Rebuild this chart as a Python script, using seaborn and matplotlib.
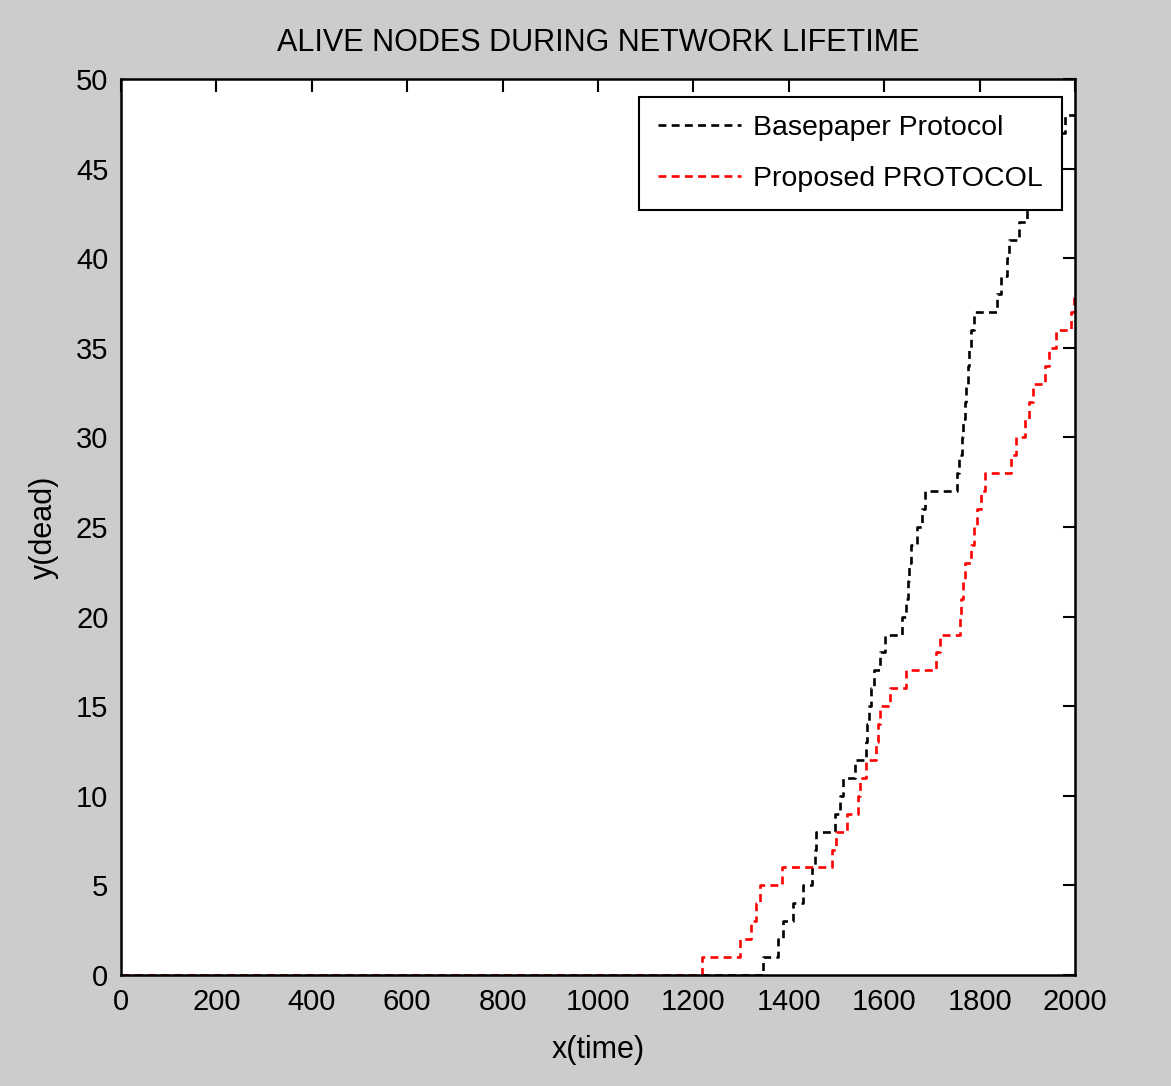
import matplotlib
matplotlib.use("Agg")
import matplotlib.pyplot as plt
import seaborn as sns
import pandas as pd

# Times (rounds) at which the dead-node count changes, and the new count
base_time = [0, 1346, 1378, 1388, 1409, 1430, 1448, 1455, 1458, 1497, 1507, 1514,
             1539, 1562, 1565, 1568, 1572, 1578, 1591, 1602, 1638, 1646, 1650, 1652,
             1656, 1669, 1679, 1686, 1752, 1757, 1763, 1766, 1769, 1772, 1775, 1778,
             1782, 1788, 1837, 1845, 1858, 1862, 1883, 1900, 1915, 1930, 1945, 1960,
             1980, 2000]
base_dead = [0, 1, 2, 3, 4, 5, 6, 7, 8, 9, 10, 11,
             12, 13, 14, 15, 16, 17, 18, 19, 20, 21, 22, 23,
             24, 25, 26, 27, 28, 29, 30, 31, 32, 33, 34, 35,
             36, 37, 38, 39, 40, 41, 42, 43, 44, 45, 46, 47,
             48, 48]

prop_time = [0, 1218, 1297, 1320, 1332, 1339, 1386, 1490, 1500, 1523, 1546, 1549,
             1562, 1582, 1588, 1592, 1612, 1646, 1708, 1716, 1760, 1762, 1765, 1770,
             1782, 1788, 1794, 1804, 1812, 1866, 1876, 1896, 1903, 1912, 1937, 1946,
             1960, 1992, 1997, 2000]
prop_dead = [0, 1, 2, 3, 4, 5, 6, 7, 8, 9, 10, 11,
             12, 13, 14, 15, 16, 17, 18, 19, 20, 21, 22, 23,
             24, 25, 26, 27, 28, 29, 30, 31, 32, 33, 34, 35,
             36, 37, 38, 38]

x_ticks = [0, 200, 400, 600, 800, 1000, 1200, 1400, 1600, 1800, 2000]
y_ticks = [0, 5, 10, 15, 20, 25, 30, 35, 40, 45, 50]

sns.set_style("white")
plt.rcParams["font.family"] = ["Liberation Sans", "DejaVu Sans"]
plt.rcParams["text.color"] = "black"
plt.rcParams["axes.labelcolor"] = "black"

fig = plt.figure(figsize=(11.71, 10.86), dpi=100, facecolor="#cccccc")
ax = fig.add_axes([0.1033, 0.1022, 0.8147, 0.8251])
ax.set_facecolor("white")

base_df = pd.DataFrame({"time": base_time, "dead": base_dead})
prop_df = pd.DataFrame({"time": prop_time, "dead": prop_dead})

sns.lineplot(data=base_df, x="time", y="dead", ax=ax, color="black",
             drawstyle="steps-post", linestyle=(0, (3, 2)), linewidth=1.9,
             label="Basepaper Protocol", estimator=None, sort=False)
sns.lineplot(data=prop_df, x="time", y="dead", ax=ax, color="red",
             drawstyle="steps-post", linestyle=(0, (3, 2)), linewidth=1.9,
             label="Proposed PROTOCOL", estimator=None, sort=False)

ax.set_xlim(0, 2000)
ax.set_ylim(0, 50)
ax.set_xticks(x_ticks)
ax.set_yticks(y_ticks)
ax.tick_params(direction="in", length=9, width=1.5, top=True, right=True,
               labelsize=21, colors="black", pad=9)
for s in ax.spines.values():
    s.set_visible(True)
    s.set_color("black")
    s.set_linewidth(1.8)

ax.set_title("ALIVE NODES DURING NETWORK LIFETIME", fontsize=22, pad=20)
ax.set_xlabel("x(time)", fontsize=22, labelpad=14)
ax.set_ylabel("y(dead)", fontsize=22, labelpad=12)

leg = ax.legend(loc="upper right", bbox_to_anchor=(0.986, 0.980), borderaxespad=0,
                fontsize=20.5, frameon=True, fancybox=False, framealpha=1,
                edgecolor="black", handlelength=2.9, handletextpad=0.45,
                borderpad=0.65, labelspacing=0.85)
leg.get_frame().set_linewidth(1.5)

fig.savefig("out.png", dpi=100, facecolor=fig.get_facecolor())
